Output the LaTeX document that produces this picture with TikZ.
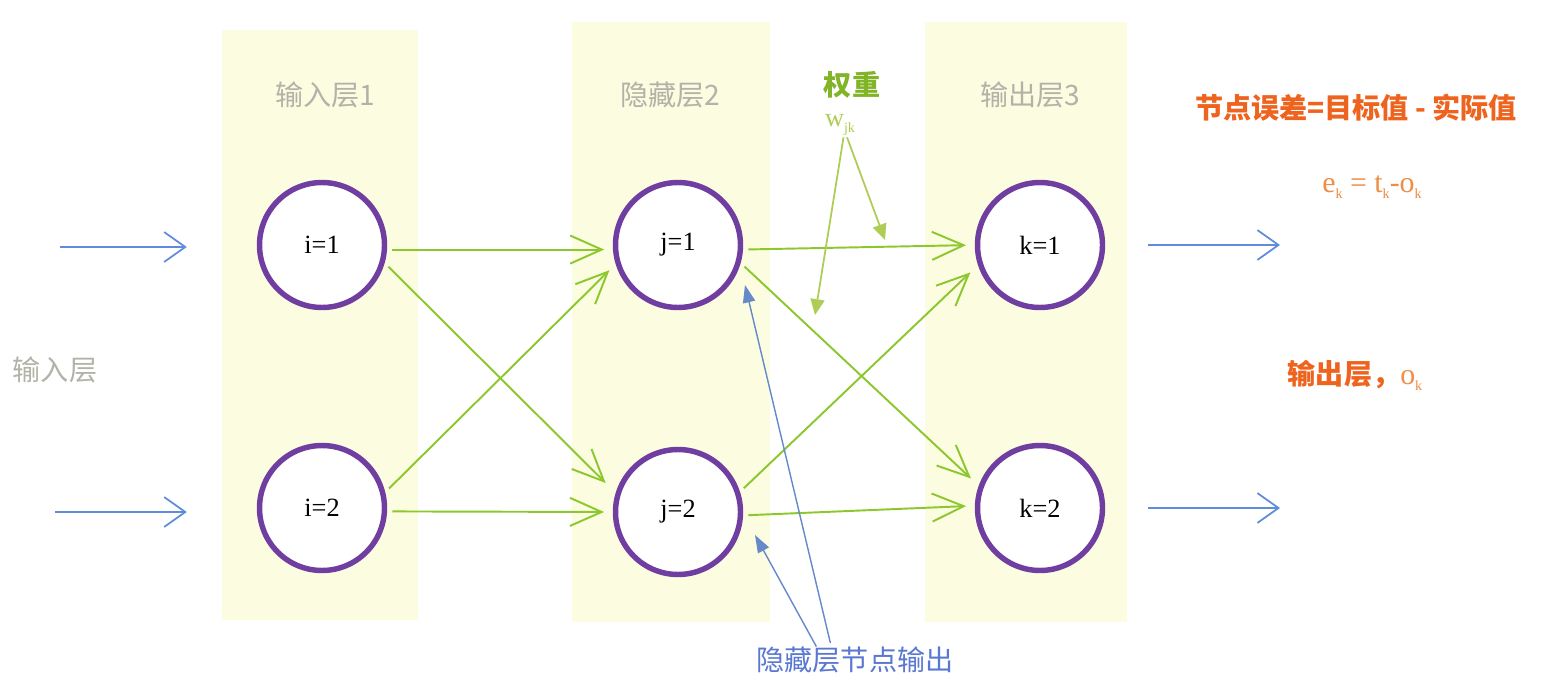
\documentclass[tikz,border=0pt]{standalone}
\usepackage{fontspec}
\setmainfont{Liberation Serif}
\newfontfamily\cjk{Noto Sans CJK SC}
\usetikzlibrary{arrows.meta}
\definecolor{layerfill}{RGB}{251,252,224}
\definecolor{neuronc}{RGB}{112,62,160}
\definecolor{sync}{RGB}{140,200,45}
\definecolor{bluec}{RGB}{95,140,220}
\definecolor{greyc}{RGB}{178,178,168}
\definecolor{orangec}{RGB}{238,100,30}
\definecolor{lorange}{RGB}{240,140,70}
\definecolor{greenc}{RGB}{130,180,40}
\definecolor{lgreen}{RGB}{175,205,85}
\definecolor{ltext}{RGB}{90,120,210}
\newcommand{\lowsub}[1]{\raisebox{-0.45ex}{\fontsize{8}{9}\selectfont #1}}
\begin{document}
\begin{tikzpicture}[x=0.02cm,y=-0.02cm,
  layerbox/.style={fill=layerfill,draw=none},
  neuron/.style={circle,draw=neuronc,line width=3.1pt,fill=white,minimum size=2.5cm,inner sep=0pt,font=\fontsize{15}{17}\selectfont},
  syn/.style={draw=sync,line width=1.1pt,-{Straight Barb[length=18pt,width=16pt,line width=1.1pt]}},
  inarrow/.style={draw=bluec,line width=1pt,-{Straight Barb[length=12pt,width=17pt,line width=1pt]}},
  warrow/.style={draw=lgreen,line width=1pt,-{Triangle[length=9pt,width=8pt]}},
  barrow/.style={draw=bluec!80!gray,line width=0.8pt,-{Triangle[length=10pt,width=7pt]}},
  lbl/.style={font=\cjk\fontsize{16}{18}\selectfont,inner sep=0pt},
]
\useasboundingbox (0,0) rectangle (1562,696);
\fill[white] (0,0) rectangle (1562,696);
% layer boxes
\path[layerbox] (222,30) rectangle (418,620);
\path[layerbox] (572,22) rectangle (770,622);
\path[layerbox] (925,22) rectangle (1127,622);
% neurons
\node[neuron] (i1) at (322,245) {i=1};
\node[neuron] (i2) at (322,508) {i=2};
\node[neuron] (j1) at (678,245) {j=1};
\node[neuron] (j2) at (678,512) {j=2};
\node[neuron] (k1) at (1040,245) {k=1};
\node[neuron] (k2) at (1040,508) {k=2};
% labels
\node[lbl,text=greyc] (l1) at (325,95) {输入层1};
\node[lbl,text=greyc] (l2) at (670,95) {隐藏层2};
\node[lbl,text=greenc,font=\cjk\bfseries\fontsize{16}{18}\selectfont] (wt) at (852,85) {权重};
\node[lbl,text=greyc] (l3) at (1030,95) {输出层3};
\node[inner sep=1pt,text=lgreen,font=\fontsize{15}{17}\selectfont] (w) at (840,125) {w\lowsub{jk}};
\node[lbl,text=orangec,font=\cjk\bfseries\fontsize{16}{18}\selectfont] (err) at (1356,108) {节点误差=目标值 - 实际值};
\node[inner sep=0pt,text=lorange,font=\fontsize{17}{19}\selectfont] (eq) at (1372,187) {e\lowsub{k} = t\lowsub{k}-o\lowsub{k}};
\node[lbl,text=orangec,font=\cjk\bfseries\fontsize{16}{18}\selectfont] (outl) at (1355,375) {输出层，{\rmfamily\mdseries\fontsize{17}{19}\selectfont\color{lorange}o\lowsub{k}}};
\node[lbl,text=greyc] (inl) at (55,370) {输入层};
\node[lbl,text=ltext] (hout) at (855,660) {隐藏层节点输出};
% input / output arrows
\coordinate (in1) at (60,247);
\coordinate (in2) at (55,512);
\coordinate (out1) at (1280,245);
\coordinate (out2) at (1280,508);
\draw[inarrow,shorten >=1.4cm] (in1) -- (i1.west |- in1);
\draw[inarrow,shorten >=1.4cm] (in2) -- (i2.west |- in2);
\draw[inarrow,shorten <=0.86cm] (k1.east |- out1) -- (out1);
\draw[inarrow,shorten <=0.86cm] (k2.east |- out2) -- (out2);
% synapses
\draw[syn,shorten <=3pt,shorten >=5pt] (i1.-4) -- (j1.184);
\draw[syn,shorten <=3pt,shorten >=8pt] (i1.-16) -- (j2.163);
\draw[syn,shorten <=3pt,shorten >=5pt] (i2.14) -- (j1.197);
\draw[syn,shorten <=3pt,shorten >=5pt] (i2.-3) -- (j2.180);
\draw[syn,shorten <=3pt,shorten >=5pt] (j1.-4) -- (k1.180);
\draw[syn,shorten <=3pt,shorten >=6pt] (j1.-16) -- (k2.160);
\draw[syn,shorten <=3pt,shorten >=6pt] (j2.18) -- (k1.198);
\draw[syn,shorten <=3pt,shorten >=5pt] (j2.-3) -- (k2.178);
% weight arrows
\coordinate (wa) at (885,240);
\coordinate (wb) at (815,315);
\draw[warrow] ([xshift=4pt]w.south) -- (wa);
\draw[warrow] ([xshift=2pt]w.south) -- (wb);
% hidden output arrows
\coordinate (ha) at (745,285);
\coordinate (hb) at (755,535);
\draw[barrow] ([xshift=-14pt,yshift=2pt]hout.north) -- (ha);
\draw[barrow] ([xshift=-22pt,yshift=0pt]hout.north) -- (hb);
\end{tikzpicture}
\end{document}
